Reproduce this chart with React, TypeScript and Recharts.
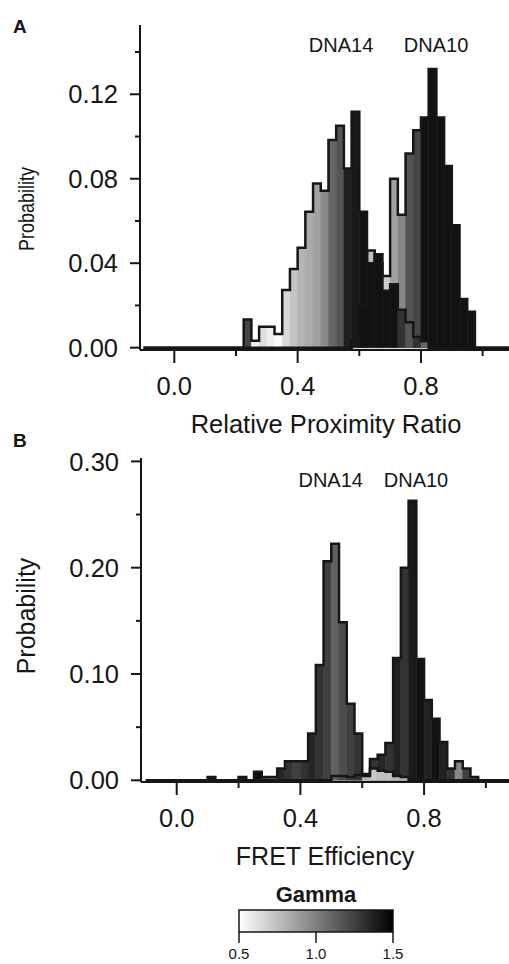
import React from 'react';
import { ComposedChart, BarChart, Bar, Line, XAxis, YAxis, Cell, ReferenceDot } from 'recharts';

const FONT = '"Liberation Sans", Arial, Helvetica, sans-serif';
const INK = '#161616';

// bin centres (bin width 0.025) with two zero end points for the outline
const binCenters = [-0.1, 0.0875, 0.1125, 0.1375, 0.1625, 0.1875, 0.2125, 0.2375, 0.2625, 0.2875, 0.3125, 0.3375, 0.3625, 0.3875, 0.4125, 0.4375, 0.4625, 0.4875, 0.5125, 0.5375, 0.5625, 0.5875, 0.6125, 0.6375, 0.6625, 0.6875, 0.7125, 0.7375, 0.7625, 0.7875, 0.8125, 0.8375, 0.8625, 0.8875, 0.9125, 0.9375, 0.9625, 0.9875, 1.1];
const binWidth = 0.025;
const seriesNames = ['DNA14', 'DNA10'];

// Panel A: relative proximity ratio
const dna14A = [0, 0, 0, 0, 0, 0, 0, 0.0134, 0.0033, 0.0099, 0.0099, 0.0065, 0.0273, 0.0373, 0.0473, 0.0644, 0.0778, 0.0743, 0.0983, 0.1051, 0.0849, 0.1117, 0.0644, 0.040, 0.0442, 0.027, 0.030, 0.018, 0.012, 0.005, 0.003, 0, 0, 0, 0, 0, 0, 0, 0];
const gamma14A = [1, 1, 1, 1, 1, 1, 1, 1.23, 0.56, 0.63, 0.57, 0.52, 0.65, 0.73, 0.79, 0.83, 0.87, 0.96, 1.1, 1.17, 1.37, 1.4, 1.43, 1.43, 1.43, 1.43, 1.43, 1.3, 1.17, 1.3, 1.1, 1, 1, 1, 1, 1, 1, 1, 1];
const dna10A = [0, 0, 0, 0, 0, 0, 0, 0, 0, 0, 0, 0, 0, 0, 0, 0, 0, 0, 0, 0, 0, 0.004, 0.020, 0.046, 0.040, 0.034, 0.080, 0.063, 0.092, 0.103, 0.109, 0.132, 0.109, 0.086, 0.058, 0.023, 0.017, 0, 0];
const gamma10A = [1, 1, 1, 1, 1, 1, 1, 1, 1, 1, 1, 1, 1, 1, 1, 1, 1, 1, 1, 1, 1, 0.9, 0.8, 0.75, 0.75, 0.7, 0.87, 0.97, 1.17, 1.23, 1.43, 1.43, 1.43, 1.43, 1.43, 1.43, 1.43, 1, 1];

// Panel B: FRET efficiency
const dna14B = [0, 0, 0.003, 0, 0, 0, 0.003, 0, 0.008, 0.003, 0.003, 0.011, 0.018, 0.018, 0.018, 0.044, 0.1085, 0.206, 0.2226, 0.1487, 0.072, 0.044, 0.004, 0.011, 0.009, 0.008, 0.004, 0.003, 0, 0, 0, 0, 0, 0, 0, 0, 0, 0, 0];
const gamma14B = [1, 1, 1.4, 1, 1, 1, 1.35, 1, 1.45, 1.2, 1.1, 1.35, 1.3, 1.25, 1.3, 1.35, 1.3, 1.25, 1.12, 1.2, 1.25, 1.3, 0.8, 0.72, 0.75, 0.75, 0.8, 0.8, 1, 1, 1, 1, 1, 1, 1, 1, 1, 1, 1];
const dna10B = [0, 0, 0, 0, 0, 0, 0, 0, 0, 0, 0, 0, 0, 0, 0, 0, 0, 0, 0.004, 0.004, 0.003, 0.005, 0.006, 0.020, 0.024, 0.035, 0.115, 0.200, 0.263, 0.114, 0.0755, 0.058, 0.036, 0.011, 0.018, 0.011, 0.003, 0, 0];
const gamma10B = [1, 1, 1, 1, 1, 1, 1, 1, 1, 1, 1, 1, 1, 1, 1, 1, 1, 1, 0.75, 0.7, 0.8, 0.75, 0.8, 1.3, 1.35, 1.3, 1.37, 1.3, 1.4, 1.43, 1.37, 1.43, 1.37, 1.3, 0.97, 1.25, 1.17, 1, 1];

const xTicks = [0, 0.2, 0.4, 0.6, 0.8, 1.0];
const xLabeled = [0, 0.4, 0.8];
const yTicksA = [0, 0.02, 0.04, 0.06, 0.08, 0.1, 0.12, 0.14];
const yLabeledA = [0, 0.04, 0.08, 0.12];
const yTicksB = [0, 0.05, 0.1, 0.15, 0.2, 0.25, 0.3];
const yLabeledB = [0, 0.1, 0.2, 0.3];
const gammaTicks = [0.5, 1.0, 1.5];
const gammaRange = [0.5, 1.5];

const gray = (g: number) => {
  const v = Math.max(0, Math.min(255, Math.round(255 * (gammaRange[1] - g) / (gammaRange[1] - gammaRange[0]))));
  return `rgb(${v},${v},${v})`;
};

const buildRows = (a14: number[], g14: number[], a10: number[], g10: number[]) =>
  binCenters.map((x, i) => ({ x, dna14: a14[i], g14: g14[i], dna10: a10[i], g10: g10[i] }));

const isMajor = (list: number[], v: number) => list.some((t) => Math.abs(t - v) < 1e-9);

const XTick = (p: any) => {
  const { x, y, payload, labeled } = p;
  const v = payload.value;
  const major = isMajor(labeled, v);
  return (
    <g>
      <line x1={x} y1={y} x2={x} y2={y + (major ? 13 : 6)} stroke={INK} strokeWidth={2} />
      {major ? (
        <text x={x} y={y + 45} textAnchor="middle" fontSize={25.5} fontFamily={FONT} fill={INK}>
          {v.toFixed(1)}
        </text>
      ) : null}
    </g>
  );
};

const YTick = (p: any) => {
  const { x, y, payload, labeled } = p;
  const v = payload.value;
  const major = isMajor(labeled, v);
  return (
    <g>
      <line x1={x} y1={y} x2={x - (major ? 10 : 5)} y2={y} stroke={INK} strokeWidth={2} />
      {major ? (
        <text x={x - 22} y={y} dy="0.36em" textAnchor="end" fontSize={25.5} fontFamily={FONT} fill={INK}>
          {v.toFixed(2)}
        </text>
      ) : null}
    </g>
  );
};

const XTitle = (p: any) => (
  <text x={p.tx} y={p.ty} textAnchor="middle" fontSize={p.size} fontFamily={FONT} fill={INK}>
    {p.text}
  </text>
);

const YTitle = (p: any) => (
  <text
    x={p.tx}
    y={p.ty}
    transform={`rotate(-90 ${p.tx} ${p.ty})`}
    textAnchor="middle"
    dominantBaseline="central"
    fontSize={p.size}
    fontFamily={FONT}
    fill={INK}
    {...(p.len ? { textLength: p.len, lengthAdjust: 'spacingAndGlyphs' } : {})}
  >
    {p.text}
  </text>
);

type PanelProps = {
  rows: any[];
  top: number;
  width: number;
  height: number;
  marginTop: number;
  yAxisWidth: number;
  xAxisHeight: number;
  xDomain: [number, number];
  yDomain: [number, number];
  yTicks: number[];
  yLabeled: number[];
  xTitle: string;
  xTitlePos: [number, number];
  xTitleSize: number;
  yTitlePos: [number, number];
  yTitleSize: number;
  yTitleLen?: number;
  labelPos: [number, number][];
};

function HistPanel(props: PanelProps) {
  const { rows, top, width, height, marginTop, yAxisWidth, xAxisHeight, xDomain, yDomain, yTicks, yLabeled, xTitle, xTitlePos, xTitleSize, yTitlePos, yTitleSize, yTitleLen, labelPos } = props;
  const plotW = width - yAxisWidth;
  const pxPerUnit = plotW / (xDomain[1] - xDomain[0]);
  const barSize = binWidth * pxPerUnit - 0.02;
  const axisStyle = { stroke: INK, strokeWidth: 2 };
  return (
    <div style={{ position: 'absolute', left: 0, top }}>
      <ComposedChart width={width} height={height} data={rows} margin={{ top: marginTop, right: 0, bottom: 0, left: 0 }}>
        <XAxis
          xAxisId="bottom"
          dataKey="x"
          type="number"
          domain={xDomain}
          allowDataOverflow
          ticks={xTicks}
          interval={0}
          tickSize={0}
          tickMargin={0}
          height={xAxisHeight}
          axisLine={axisStyle}
          tickLine={false}
          tick={<XTick labeled={xLabeled} />}
          label={<XTitle tx={xTitlePos[0]} ty={xTitlePos[1]} size={xTitleSize} text={xTitle} />}
        />
        <XAxis
          xAxisId="top"
          orientation="top"
          dataKey="x"
          type="number"
          domain={xDomain}
          allowDataOverflow
          height={0}
          tick={false}
          tickLine={false}
          axisLine={axisStyle}
        />
        <YAxis
          yAxisId="left"
          type="number"
          domain={yDomain}
          allowDataOverflow
          ticks={yTicks}
          interval={0}
          width={yAxisWidth}
          tickSize={0}
          tickMargin={0}
          axisLine={axisStyle}
          tickLine={false}
          tick={<YTick labeled={yLabeled} />}
          label={<YTitle tx={yTitlePos[0]} ty={yTitlePos[1]} size={yTitleSize} len={yTitleLen} text="Probability" />}
        />
        <Bar xAxisId="top" yAxisId="left" dataKey="dna10" barSize={barSize} isAnimationActive={false}>
          {rows.map((r, i) => (
            <Cell key={`b10-${i}`} fill={gray(r.g10)} stroke={gray(r.g10)} strokeWidth={0.6} />
          ))}
        </Bar>
        <Bar xAxisId="bottom" yAxisId="left" dataKey="dna14" barSize={barSize} isAnimationActive={false}>
          {rows.map((r, i) => (
            <Cell key={`b14-${i}`} fill={gray(r.g14)} stroke={gray(r.g14)} strokeWidth={0.6} />
          ))}
        </Bar>
        <Line xAxisId="bottom" yAxisId="left" dataKey="dna10" type="step" stroke={INK} strokeWidth={2.5} dot={false} activeDot={false} isAnimationActive={false} />
        <Line xAxisId="bottom" yAxisId="left" dataKey="dna14" type="step" stroke={INK} strokeWidth={2.5} dot={false} activeDot={false} isAnimationActive={false} />
        {seriesNames.map((name, i) => (
          <ReferenceDot
            key={name}
            xAxisId="bottom"
            yAxisId="left"
            x={labelPos[i][0]}
            y={labelPos[i][1]}
            r={0}
            fill="none"
            stroke="none"
            label={{ value: name, position: 'center', fontSize: 20, fill: INK, fontFamily: FONT }}
          />
        ))}
      </ComposedChart>
    </div>
  );
}

const rowsA = buildRows(dna14A, gamma14A, dna10A, gamma10A);
const rowsB = buildRows(dna14B, gamma14B, dna10B, gamma10B);
const gammaRows = [{ name: 'Gamma', range: gammaRange }];

export default function App() {
  return (
    <div style={{ position: 'absolute', left: 0, top: 0, width: 509, height: 964, overflow: 'hidden', background: '#fff', fontFamily: FONT }}>
      <HistPanel
        rows={rowsA}
        top={0}
        width={520}
        height={440}
        marginTop={25}
        yAxisWidth={140}
        xAxisHeight={90}
        xDomain={[-0.1113, 1.1212]}
        yDomain={[-0.0011, 0.1528]}
        yTicks={yTicksA}
        yLabeled={yLabeledA}
        xTitle="Relative Proximity Ratio"
        xTitlePos={[326, 433]}
        xTitleSize={25.5}
        yTitlePos={[26, 209]}
        yTitleSize={22}
        yTitleLen={84}
        labelPos={[[0.541, 0.1433], [0.849, 0.1433]]}
      />
      <HistPanel
        rows={rowsB}
        top={430}
        width={523}
        height={440}
        marginTop={28}
        yAxisWidth={141}
        xAxisHeight={88}
        xDomain={[-0.1155, 1.12]}
        yDomain={[-0.0016, 0.3032]}
        yTicks={yTicksB}
        yLabeled={yLabeledB}
        xTitle="FRET Efficiency"
        xTitlePos={[325, 435]}
        xTitleSize={25}
        yTitlePos={[26, 186]}
        yTitleSize={25}
        labelPos={[[0.498, 0.283], [0.774, 0.283]]}
      />
      <div style={{ position: 'absolute', left: 13, top: 17, fontSize: 19, fontWeight: 'bold', lineHeight: 1, color: INK }}>A</div>
      <div style={{ position: 'absolute', left: 13, top: 431, fontSize: 19, fontWeight: 'bold', lineHeight: 1, color: INK }}>B</div>
      <div style={{ position: 'absolute', left: 216, top: 884, width: 200, textAlign: 'center', fontSize: 22, fontWeight: 'bold', lineHeight: 1, color: INK }}>Gamma</div>
      <div style={{ position: 'absolute', left: 0, top: 860 }}>
        <BarChart layout="vertical" width={509} height={104} data={gammaRows} margin={{ top: 50, right: 116, bottom: 0, left: 239 }} barCategoryGap={0}>
          <defs>
            <linearGradient id="gammaGrad" x1="0" y1="0" x2="1" y2="0">
              <stop offset="0" stopColor="#ffffff" />
              <stop offset="0.5" stopColor="#808080" />
              <stop offset="1" stopColor="#000000" />
            </linearGradient>
          </defs>
          <XAxis
            type="number"
            domain={gammaRange}
            ticks={gammaTicks}
            interval={0}
            height={32}
            axisLine={false}
            tickSize={11}
            tickMargin={5}
            tickLine={{ stroke: INK, strokeWidth: 1.5 }}
            tick={{ fontSize: 15, fill: INK, fontFamily: FONT }}
            tickFormatter={(v: number) => v.toFixed(1)}
          />
          <YAxis type="category" dataKey="name" hide />
          <Bar dataKey="range" fill="url(#gammaGrad)" stroke={INK} strokeWidth={1.5} isAnimationActive={false} />
        </BarChart>
      </div>
    </div>
  );
}
